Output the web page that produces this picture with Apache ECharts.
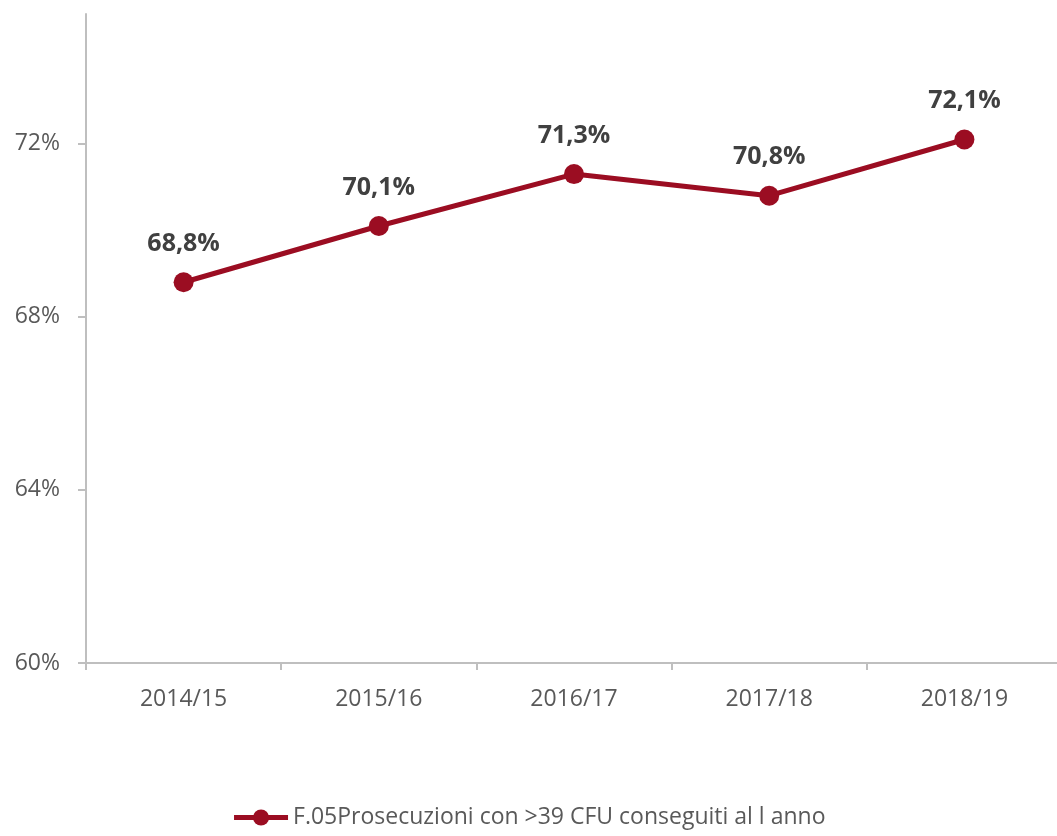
<!DOCTYPE html>
<html>
<head>
<meta charset="utf-8">
<script src="https://cdn.jsdelivr.net/npm/echarts@6/dist/echarts.min.js"></script>
<style>
  html, body { margin: 0; padding: 0; background: #fff; }
  #chart { width: 1057px; height: 836px; }
</style>
</head>
<body>
<div id="chart"></div>
<script>
const categories = ['2014/15', '2015/16', '2016/17', '2017/18', '2018/19']
const values = [68.8, 70.1, 71.3, 70.8, 72.1]
const yTicks = [60, 64, 68, 72]
const seriesName = 'F.05Prosecuzioni con >39 CFU conseguiti al l anno'

const lineColor = '#9b0d22'
const textColor = '#595959'
const fontFamily = 'Open Sans, sans-serif'

const chart = echarts.init(document.getElementById('chart'))
chart.setOption({
  backgroundColor: '#fff',
  animation: false,
  grid: {
    left: 86,
    width: 976,
    top: 14,
    bottom: 173,
    containLabel: false,
    outerBoundsMode: 'none'
  },
  legend: {
    bottom: 2,
    left: 'center',
    itemWidth: 54,
    itemHeight: 20,
    itemGap: 10,
    lineStyle: { width: 5 },
    textStyle: {
      color: textColor,
      fontSize: 23,
      fontFamily: fontFamily
    },
    data: [seriesName]
  },
  xAxis: {
    type: 'category',
    data: categories,
    axisLine: {
      lineStyle: { color: '#bfbfbf', width: 2 }
    },
    axisTick: {
      show: true,
      length: 7,
      lineStyle: { color: '#bfbfbf', width: 2 }
    },
    axisLabel: {
      color: textColor,
      fontSize: 23,
      fontFamily: fontFamily,
      margin: 25
    },
    splitLine: { show: false }
  },
  yAxis: {
    type: 'value',
    min: 60,
    max: 75,
    axisLine: {
      show: true,
      lineStyle: { color: '#bfbfbf', width: 2 }
    },
    axisTick: {
      show: true,
      length: 8,
      customValues: yTicks,
      lineStyle: { color: '#bfbfbf', width: 2 }
    },
    axisLabel: {
      color: textColor,
      fontSize: 23,
      fontFamily: fontFamily,
      margin: 26,
      customValues: yTicks,
      formatter: function(v) {
        return v + '%'
      }
    },
    splitLine: { show: false }
  },
  series: [{
    name: seriesName,
    type: 'line',
    data: values,
    symbol: 'circle',
    symbolSize: 20,
    lineStyle: { color: lineColor, width: 5 },
    itemStyle: { color: lineColor },
    label: {
      show: true,
      position: 'top',
      distance: 16,
      color: '#404040',
      fontSize: 25,
      fontWeight: 'bold',
      fontFamily: fontFamily,
      formatter: function(p) {
        return p.value.toFixed(1).replace('.', ',') + '%'
      }
    }
  }]
})
</script>
</body>
</html>
